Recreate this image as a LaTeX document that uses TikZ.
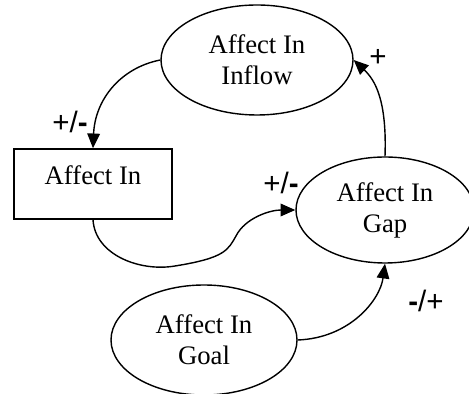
\documentclass[tikz,border=0pt]{standalone}
\usepackage{fontspec}
\setmainfont{Liberation Serif}
\setsansfont{Liberation Sans}
\usetikzlibrary{shapes.geometric,arrows.meta}

\tikzset{
    var/.style={ellipse, draw, line width=1pt, inner sep=0pt, align=center,
        font=\fontsize{19}{22}\selectfont},
    stock/.style={rectangle, draw, line width=1pt, inner sep=0pt, align=center,
        font=\fontsize{19}{22}\selectfont},
    link/.style={line width=1pt, -{Triangle[length=10.5pt, width=9pt]}},
    sign/.style={font=\sffamily\fontsize{21}{23}\selectfont}
}

\begin{document}
\begin{tikzpicture}
                \useasboundingbox (0, 0) rectangle (11.725, 9.85);
                % Nodes:
                \node[var, minimum width=4.8cm, minimum height=2.75cm](inflow) at (6.425, 8.35){Affect In\\Inflow};
                \node[stock, minimum width=3.95cm, minimum height=1.75cm, text depth=0.45cm](stock) at (2.325, 5.25){Affect In};
                \node[var, minimum width=4.45cm, minimum height=2.65cm](gap) at (9.625, 4.6){Affect In\\Gap};
                \node[var, minimum width=4.65cm, minimum height=2.75cm](goal) at (5.1, 1.35){Affect In\\Goal};
                % Links:
                \draw[link] (inflow.west) .. controls (3.0, 8.15) and (2.375, 7.35) .. (stock.north);
                \draw[link] (stock.south) .. controls (2.375, 3.475) and (3.5, 3.05) .. (4.375, 3.2)
                    .. controls (5.625, 3.4) and (5.7, 3.6) .. (5.9, 3.95)
                    .. controls (6.125, 4.4) and (6.75, 4.6) .. (gap.west);
                \draw[link] (goal.east) .. controls (8.75, 1.4) and (9.5, 2.35) .. (gap.south);
                \draw[link] (gap.north) .. controls (9.675, 7.35) and (9.375, 7.85) .. (inflow.east);
                % Polarities:
                \node[sign](s1) at (9.45, 8.4){+};
                \node[sign](s2) at (1.75, 6.8){+/{\bfseries -}};
                \node[sign](s3) at (7.025, 5.275){+/{\bfseries -}};
                \node[sign](s4) at (10.65, 2.325){{\bfseries -}/+};
            \end{tikzpicture}
\end{document}
